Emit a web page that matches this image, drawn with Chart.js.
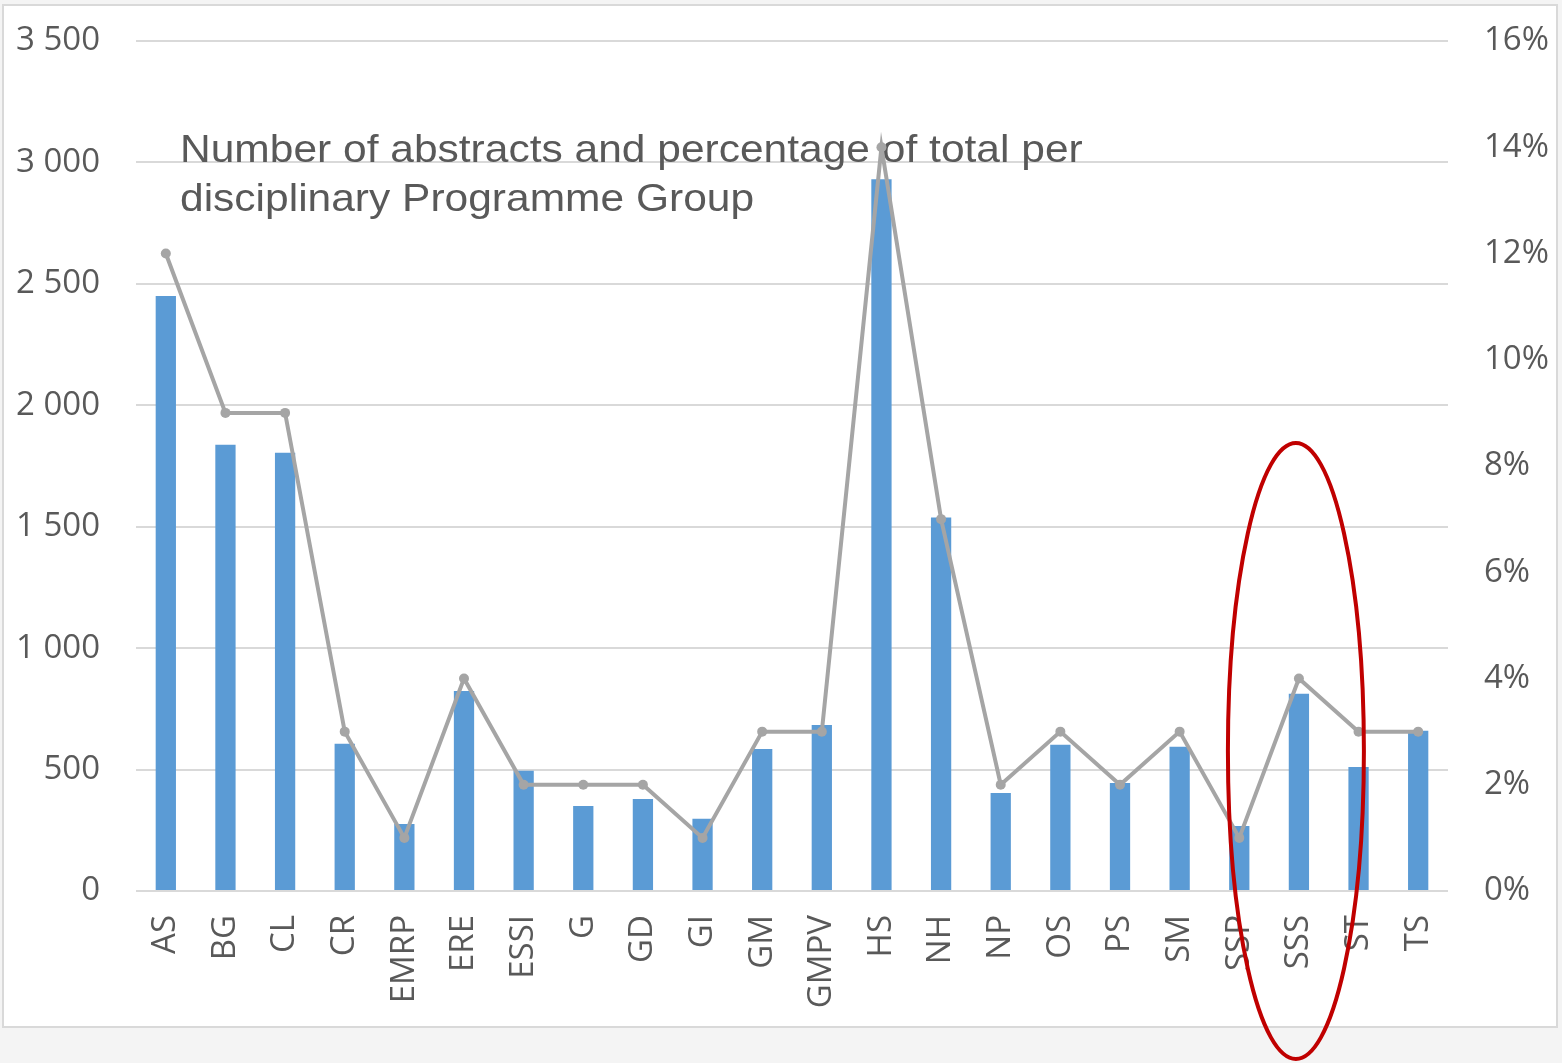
<!DOCTYPE html>
<html>
<head>
<meta charset="utf-8">
<script src="https://cdn.jsdelivr.net/npm/chart.js@4/dist/chart.umd.min.js"></script>
<style>
  html, body { margin: 0; padding: 0; background: #f4f4f4; }
  #wrap { position: relative; width: 1562px; height: 1063px; }
</style>
</head>
<body>
<div id="wrap"><canvas id="chart" width="1562" height="1063"></canvas></div>
<script>
// Programme groups along the x axis
const groups = ['AS', 'BG', 'CL', 'CR', 'EMRP', 'ERE', 'ESSI', 'G', 'GD', 'GI', 'GM',
  'GMPV', 'HS', 'NH', 'NP', 'OS', 'PS', 'SM', 'SSP', 'SSS', 'ST', 'TS'];

// Number of abstracts per group (left axis)
const abstracts = [2450, 1838, 1805, 606, 276, 824, 495, 350, 379, 297, 585,
  684, 2931, 1538, 404, 602, 445, 594, 268, 812, 511, 660];

// Percentage of total per group (right axis)
const percentOfTotal = [12, 9, 9, 3, 1, 4, 2, 2, 2, 1, 3,
  3, 14, 7, 2, 3, 2, 3, 1, 4, 3, 3];

const titleLines = ['Number of abstracts and percentage of total per', 'disciplinary Programme Group'];
const highlightGroup = 'SSS';

const textColor = '#595959';
const gridColor = '#d9d9d9';
const tickFont = { family: 'Open Sans', size: 33 };

// Grey page with the white chart panel
const panelPlugin = {
  id: 'panel',
  beforeDraw(chart) {
    const ctx = chart.ctx;
    ctx.save();
    ctx.fillStyle = '#f4f4f4';
    ctx.fillRect(0, 0, chart.width, chart.height);
    ctx.fillStyle = '#ffffff';
    ctx.fillRect(3, 5, 1554, 1022);
    ctx.strokeStyle = '#d9d9d9';
    ctx.lineWidth = 2;
    ctx.strokeRect(3, 5, 1554, 1022);
    ctx.restore();
  }
};

// Title text sits inside the plot, over the grid but under the bars/line
const titlePlugin = {
  id: 'innerTitle',
  beforeDatasetsDraw(chart) {
    const ctx = chart.ctx;
    ctx.save();
    ctx.fillStyle = textColor;
    ctx.font = '39px "Liberation Sans"';
    ctx.textBaseline = 'alphabetic';
    ctx.translate(180, 0);
    ctx.scale(1.09, 1);
    ctx.fillText(titleLines[0], 0, 162);
    ctx.fillText(titleLines[1], 0, 211);
    ctx.restore();
  }
};

// Red ellipse highlighting one group
const ellipsePlugin = {
  id: 'highlight',
  afterDraw(chart) {
    const x = chart.scales.x.getPixelForValue(groups.indexOf(highlightGroup));
    const ctx = chart.ctx;
    ctx.save();
    ctx.strokeStyle = '#c00000';
    ctx.lineWidth = 4;
    ctx.beginPath();
    ctx.ellipse(x - 3, 751, 68, 308, 0, 0, Math.PI * 2);
    ctx.stroke();
    ctx.restore();
  }
};

// fixed side width, and top padding so the plot starts at y = 40
function fitSide(width) {
  return scale => {
    scale.width = width;
    scale.paddingTop = 41;
    scale.paddingBottom = 0;
  };
}

new Chart(document.getElementById('chart').getContext('2d'), {
  data: {
    labels: groups,
    datasets: [
      {
        type: 'line',
        label: 'Percentage of total',
        data: percentOfTotal,
        yAxisID: 'yPct',
        borderColor: '#a5a5a5',
        backgroundColor: '#a5a5a5',
        borderWidth: 4,
        pointRadius: 5,
        pointBorderWidth: 0,
        tension: 0,
        order: 0,
      },
      {
        type: 'bar',
        label: 'Number of abstracts',
        data: abstracts,
        yAxisID: 'y',
        backgroundColor: '#5b9bd5',
        categoryPercentage: 1,
        barPercentage: 0.34,
        order: 1,
      },
    ],
  },
  options: {
    responsive: false,
    animation: false,
    layout: { padding: 0 },
    plugins: { legend: { display: false }, tooltip: { enabled: false } },
    scales: {
      x: {
        grid: { display: false },
        border: { display: false },
        ticks: {
          color: textColor,
          font: tickFont,
          maxRotation: 90,
          minRotation: 90,
          padding: 16,
          autoSkip: false,
        },
        afterFit(scale) { scale.height = 172; },
      },
      y: {
        position: 'left',
        min: 0,
        max: 3500,
        border: { display: false },
        grid: { color: gridColor, lineWidth: 2, drawTicks: false },
        ticks: {
          stepSize: 500,
          color: textColor,
          font: tickFont,
          padding: 36,
          callback: v => v >= 1000 ? Math.floor(v / 1000) + ' ' + String(v % 1000).padStart(3, '0') : String(v),
        },
        afterFit: fitSide(136),
      },
      yPct: {
        position: 'right',
        min: 0,
        max: 16,
        border: { display: false },
        grid: { display: false, drawTicks: false },
        ticks: {
          stepSize: 2,
          color: textColor,
          font: tickFont,
          padding: 36,
          callback: v => v + '%',
        },
        afterFit: fitSide(114),
      },
    },
  },
  plugins: [panelPlugin, titlePlugin, ellipsePlugin],
});
</script>
</body>
</html>
